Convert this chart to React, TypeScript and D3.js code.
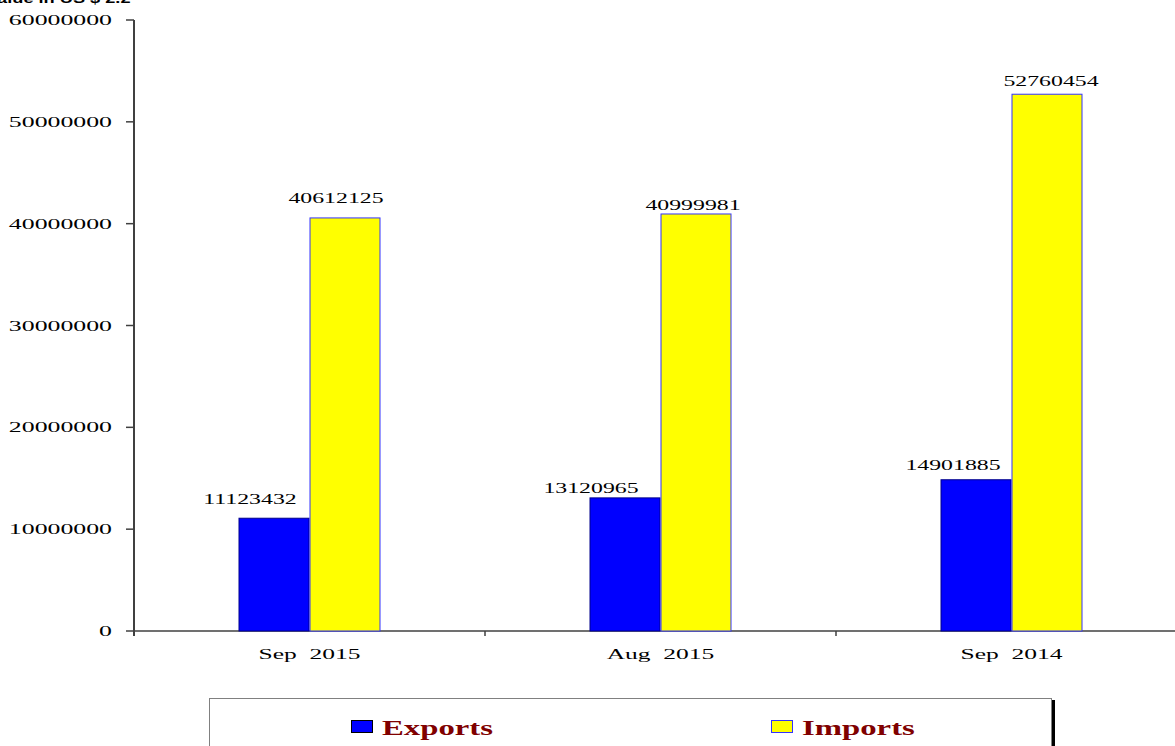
import React from "react";
import * as d3 from "d3";

const categories = ["Sep  2015", "Aug  2015", "Sep  2014"];
const exportsValues = [11123432, 13120965, 14901885];
const importsValues = [40612125, 40999981, 52760454];
const yTicks = [0, 10000000, 20000000, 30000000, 40000000, 50000000, 60000000];
const seriesNames = ["Exports", "Imports"];

const W = 1175;
const H = 746;
const axisX = 134;
const axisY = 631;
const topY = 20;
const SX = 1.7;
const serif = "'Liberation Serif', 'Times New Roman', serif";

export default function App() {
  const y = d3.scaleLinear().domain([0, 60000000]).range([axisY, topY]);
  const x = d3.scaleBand<string>().domain(categories).range([axisX, axisX + 351 * 3]).padding(0);
  const inner = d3.scaleBand<string>().domain(seriesNames).range([0, 142]);
  const bw = inner.bandwidth();
  const colors: Record<string, { fill: string; stroke: string }> = {
    Exports: { fill: "#0000ff", stroke: "#00008b" },
    Imports: { fill: "#ffff00", stroke: "#3333ff" },
  };
  const labelDx = [
    [-24, -9],
    [-34, -3],
    [-23, 4],
  ];
  const labelGap = [
    [14, 14],
    [4, 3],
    [9, 8],
  ];

  const groups = categories.map((c, i) => {
    const gx = (x(c) as number) + x.bandwidth() / 2 - 71;
    const vals = [exportsValues[i], importsValues[i]];
    return (
      <g key={c}>
        {seriesNames.map((s, j) => {
          const bx = gx + (inner(s) as number);
          const by = y(vals[j]);
          return (
            <g key={s}>
              <rect
                x={bx + 0.5}
                y={by + 0.5}
                width={bw - 1}
                height={axisY - by - 0.5}
                fill={colors[s].fill}
                stroke={colors[s].stroke}
                strokeWidth={1}
              />
              <text
                transform={`translate(${bx + bw / 2 + labelDx[i][j]},${by - labelGap[i][j]}) scale(${SX},1)`}
                textAnchor="middle"
                fontFamily={serif}
                fontSize={14}
                fill="#000"
              >
                {vals[j]}
              </text>
            </g>
          );
        })}
        <text
          transform={`translate(${(x(c) as number) + x.bandwidth() / 2},659) scale(${SX},1)`}
          textAnchor="middle"
          fontFamily={serif}
          fontSize={15}
          fill="#000"
          style={{ whiteSpace: "pre" }}
        >
          {c}
        </text>
      </g>
    );
  });

  return (
    <svg
      width={W}
      height={H}
      style={{ position: "absolute", left: 0, top: 0, background: "#fff" }}
    >
      <text
        transform={`translate(-14,3) scale(1.4,1)`}
        fontFamily="'Liberation Sans', Arial, sans-serif"
        fontWeight="bold"
        fontSize={13}
        fill="#000"
      >
        Value in US $ 2.2
      </text>
      {/* y axis */}
      <line x1={axisX} x2={axisX} y1={topY} y2={axisY + 5} stroke="#404040" strokeWidth={2} />
      {yTicks.map((t) => (
        <g key={t}>
          <line x1={axisX - 8} x2={axisX} y1={y(t)} y2={y(t)} stroke="#404040" strokeWidth={1.5} />
          <text
            transform={`translate(112,${y(t) + 5}) scale(1.72,1)`}
            textAnchor="end"
            fontFamily={serif}
            fontSize={15}
            fill="#000"
          >
            {t}
          </text>
        </g>
      ))}
      {/* x axis */}
      <line x1={axisX} x2={W} y1={axisY} y2={axisY} stroke="#404040" strokeWidth={1.5} />
      {categories.slice(1).map((c) => (
        <line
          key={c}
          x1={x(c) as number}
          x2={x(c) as number}
          y1={axisY}
          y2={axisY + 5}
          stroke="#404040"
          strokeWidth={1.5}
        />
      ))}
      {groups}
      {/* legend */}
      <rect x={1051} y={700} width={4} height={60} fill="#000" />
      <rect x={209.5} y={698.5} width={842} height={60} fill="#fff" stroke="#808080" strokeWidth={1} />
      {seriesNames.map((s, i) => {
        const lx = [351, 771][i];
        return (
          <g key={s}>
            <rect
              x={lx + 0.5}
              y={720.5}
              width={21}
              height={12}
              fill={colors[s].fill}
              stroke={i === 0 ? "#000" : "#3333ff"}
              strokeWidth={1}
            />
            <text
              transform={`translate(${lx + 31},735) scale(1.56,1)`}
              fontFamily={serif}
              fontWeight="bold"
              fontSize={21}
              fill="#800000"
            >
              {s}
            </text>
          </g>
        );
      })}
    </svg>
  );
}
